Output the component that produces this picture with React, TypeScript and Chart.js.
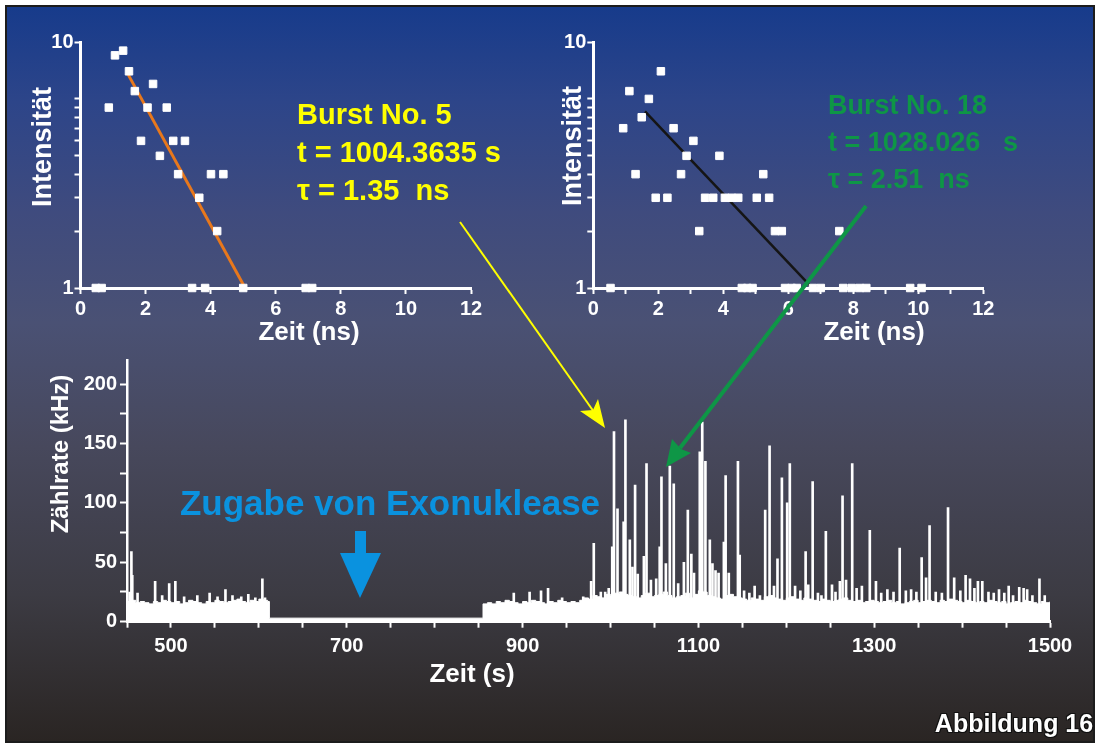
import React, { useEffect, useRef } from "react";
import { Chart, registerables } from "chart.js";

Chart.register(...registerables);

const FONT = '"Liberation Sans", Arial, Helvetica, sans-serif';

// ---------- Burst No. 5 (left decay, log scale) ----------
const burst5Time = [1.06, 1.31, 1.49, 1.67, 2.23, 0.87, 2.06, 2.65, 1.86, 2.85, 3.21, 2.44, 3.0, 4.01, 4.39, 3.65, 4.2, 0.47, 0.65, 3.43, 3.83, 5.0, 6.92, 7.12];
const burst5Counts = [17, 18, 14, 11, 12, 9, 9, 9, 6, 6, 6, 5, 4, 4, 4, 3, 2, 1, 1, 1, 1, 1, 1, 1];
const burst5FitTime = [1.47, 5.06];
const burst5FitCounts = [13.4, 1.0];

// ---------- Burst No. 18 (right decay, log scale) ----------
const burst18Time = [2.08, 1.11, 1.71, 1.49, 0.92, 2.47, 3.08, 2.87, 3.88, 1.3, 2.7, 5.23, 1.92, 2.28, 3.44, 3.69, 4.05, 4.26, 4.46, 5.03, 5.41, 3.26, 5.59, 5.8, 7.57, 0.53, 4.57, 4.74, 4.9, 5.9, 6.1, 6.26, 6.76, 7.0, 7.69, 7.95, 8.2, 8.4, 9.75, 10.1];
const burst18Counts = [14, 11, 10, 8, 7, 7, 6, 5, 5, 4, 4, 4, 3, 3, 3, 3, 3, 3, 3, 3, 3, 2, 2, 2, 2, 1, 1, 1, 1, 1, 1, 1, 1, 1, 1, 1, 1, 1, 1, 1];
const burst18FitTime = [1.59, 6.67];
const burst18FitCounts = [8.6, 1.03];

// log-axis tick positions (labelled "1" and "10" as in the original figure)
const decayTickValues = [1, 2, 3, 4, 5, 6, 7, 8, 9, 10, 20];

// ---------- Count-rate trace (kHz) ----------
const segAStart = 450; // s, 5 s bins
const segARate = [17, 18, 16, 17, 16, 15, 17, 16, 18, 17, 16, 17, 15, 16, 18, 17, 16, 15, 17, 16, 18, 17, 16, 17, 18, 19, 17, 16, 18, 17, 19, 18, 17];
const gapTime = [612];
const gapRate = [3];
const segBStart = 855; // s, 5 s bins
const segBRate = [
  15, 16, 15, 17, 16, 18, 17, 16, 15, 17,
  16, 18, 17, 16, 15, 17, 16, 18, 17, 16,
  17, 16, 18, 20, 19, 22, 21, 20, 23, 22,
  24, 25, 23, 22, 21, 20, 22, 24, 21, 22,
  23, 25, 22, 20, 21, 22, 24, 20, 23, 26,
  25, 22, 21, 20, 19, 22, 23, 21, 20, 19,
  18, 20, 19, 18, 21, 22, 20, 19, 18, 20,
  21, 19, 18, 20, 19, 18, 17, 19, 18, 17,
  18, 19, 20, 18, 17, 18, 16, 17, 18, 17,
  16, 17, 18, 16, 17, 15, 16, 17, 18, 16,
  17, 18, 17, 16, 18, 17, 19, 18, 17, 16,
  18, 17, 16, 17, 16, 18, 17, 16, 17, 15,
  16, 17, 16, 18, 17, 16, 15, 17, 16, 17,
];
const binWidth = 5;

const spikeTime = [
  453, 455, 456, 462, 482, 490, 498, 505, 515, 530, 544, 553, 562, 570, 580, 588, 596, 604, 607,
  890, 908, 921, 929, 945, 969, 978, 981, 989, 994, 998, 1002, 1004, 1008, 1015, 1017, 1022, 1025, 1028, 1031,
  1038, 1041, 1046, 1052, 1056, 1058, 1063, 1067.5, 1072, 1077, 1083.5, 1088, 1092, 1095, 1101.6, 1104.4, 1108,
  1113, 1116, 1119.5, 1123, 1129, 1131, 1134.6, 1145, 1147, 1152, 1158, 1164, 1170, 1176, 1181, 1186, 1190,
  1195, 1201, 1204, 1210, 1216, 1222, 1225, 1230, 1236, 1240, 1245, 1252, 1256, 1261, 1264, 1268, 1275, 1280,
  1286, 1295, 1302, 1308, 1315, 1322, 1329, 1336, 1342, 1348, 1354, 1359, 1363, 1370, 1377, 1384, 1391, 1398,
  1404, 1409, 1414, 1418, 1423, 1430, 1436, 1442, 1448, 1453, 1458, 1465, 1470, 1474, 1480, 1488, 1494,
];
const spikeRate = [
  25, 59, 39, 24, 34, 22, 32, 34, 21, 22, 24, 21, 27, 22, 21, 23, 20, 36, 20,
  24, 25, 26, 28, 20, 21, 34, 66, 25, 25, 28, 63, 160, 95, 84, 170, 69, 46, 115, 40,
  55, 133, 35, 36, 63, 122, 49, 131, 116, 32, 50, 94, 57, 41, 143, 168, 135,
  69, 49, 43, 41, 67, 123, 41, 135, 56, 26, 24, 30, 22, 94, 148, 30, 53,
  121, 100, 133, 30, 26, 59, 31, 118, 24, 22, 76, 31, 25, 34, 106, 35, 133, 28,
  30, 77, 34, 24, 27, 25, 62, 26, 27, 25, 54, 37, 81, 25, 24, 96, 37, 26,
  39, 36, 28, 34, 34, 25, 24, 27, 24, 30, 22, 29, 28, 27, 22, 36, 22,
];

const tickFont = { family: FONT, size: 20, weight: "bold" as const };

function buildTrace() {
  const pts: { x: number; y: number }[] = [];
  segARate.forEach((v, i) => pts.push({ x: segAStart + i * binWidth, y: v }));
  gapTime.forEach((t, i) => pts.push({ x: t, y: gapRate[i] }));
  segBRate.forEach((v, i) => pts.push({ x: segBStart + i * binWidth, y: v }));
  return pts;
}

function axisGrid() {
  return {
    display: true,
    drawOnChartArea: false,
    drawTicks: true,
    tickLength: 6,
    tickWidth: 2,
    tickColor: "#ffffff",
    color: "#ffffff",
    offset: false,
  };
}

function decayConfig(p: {
  times: number[];
  counts: number[];
  fitTimes: number[];
  fitCounts: number[];
  fitColor: string;
  fitWidth: number;
  xStep: number;
  yWidth: number;
  padRight: number;
}): any {
  return {
    type: "scatter",
    data: {
      datasets: [
        {
          type: "scatter",
          data: p.times.map((t, i) => ({ x: t, y: p.counts[i] })),
          pointStyle: "rect",
          pointRadius: 5.3,
          backgroundColor: "#ffffff",
          borderColor: "#ffffff",
          borderWidth: 1,
          order: 1,
          clip: false,
        },
        {
          type: "line",
          data: p.fitTimes.map((t, i) => ({ x: t, y: p.fitCounts[i] })),
          borderColor: p.fitColor,
          borderWidth: p.fitWidth,
          pointRadius: 0,
          fill: false,
          order: 2,
          clip: false,
        },
      ],
    },
    options: {
      responsive: false,
      animation: false,
      devicePixelRatio: 1,
      layout: { padding: { top: 22, right: p.padRight, left: 0, bottom: 0 } },
      plugins: { legend: { display: false }, tooltip: { enabled: false } },
      scales: {
        x: {
          type: "linear",
          min: 0,
          max: 12,
          border: { display: true, color: "#ffffff", width: 3 },
          grid: axisGrid(),
          ticks: {
            stepSize: p.xStep,
            color: "#ffffff",
            font: tickFont,
            padding: 3,
            maxRotation: 0,
            autoSkip: false,
            callback: (v: number) => (v % 2 === 0 ? String(v) : ""),
          },
          afterFit: (s: any) => {
            s.height = 32;
          },
        },
        y: {
          type: "logarithmic",
          min: 1,
          max: 20,
          border: { display: true, color: "#ffffff", width: 3 },
          grid: axisGrid(),
          ticks: {
            color: "#ffffff",
            font: tickFont,
            padding: 1,
            autoSkip: false,
            callback: (v: number) => (v === 1 ? "1" : v === 20 ? "10" : ""),
          },
          afterBuildTicks: (s: any) => {
            s.ticks = decayTickValues.map((v) => ({ value: v }));
          },
          afterFit: (s: any) => {
            s.width = p.yWidth;
          },
        },
      },
    },
  };
}

function traceConfig(): any {
  return {
    type: "line",
    data: {
      datasets: [
        {
          type: "line",
          data: buildTrace(),
          stepped: "before",
          fill: "origin",
          backgroundColor: "#ffffff",
          borderColor: "#ffffff",
          borderWidth: 1,
          pointRadius: 0,
          order: 2,
        },
        {
          type: "bar",
          data: spikeTime.map((t, i) => ({ x: t, y: spikeRate[i] })),
          backgroundColor: "#ffffff",
          borderWidth: 0,
          barThickness: 2,
          order: 1,
        },
      ],
    },
    options: {
      responsive: false,
      animation: false,
      devicePixelRatio: 1,
      layout: { padding: { top: 20.3, right: 40, left: 0, bottom: 0 } },
      plugins: { legend: { display: false }, tooltip: { enabled: false } },
      scales: {
        x: {
          type: "linear",
          min: 450,
          max: 1500,
          offset: false,
          border: { display: true, color: "#ffffff", width: 3 },
          grid: axisGrid(),
          ticks: {
            stepSize: 50,
            color: "#ffffff",
            font: tickFont,
            padding: 7,
            maxRotation: 0,
            autoSkip: false,
            callback: (v: number) => (v >= 500 && (v - 500) % 200 === 0 ? String(v) : ""),
          },
          afterFit: (s: any) => {
            s.height = 48.3;
          },
        },
        y: {
          type: "linear",
          min: 0,
          max: 220,
          border: { display: true, color: "#ffffff", width: 2.5 },
          grid: { ...axisGrid(), tickLength: 7 },
          ticks: {
            stepSize: 25,
            includeBounds: false,
            color: "#ffffff",
            font: tickFont,
            padding: 3,
            autoSkip: false,
            callback: (v: number) => (v % 50 === 0 ? String(v) : ""),
          },
          afterFit: (s: any) => {
            s.width = 107;
          },
        },
      },
    },
  };
}

function ChartCanvas(props: { left: number; top: number; width: number; height: number; make: () => any }) {
  const ref = useRef<HTMLCanvasElement | null>(null);
  useEffect(() => {
    if (!ref.current) return;
    const chart = new Chart(ref.current, props.make());
    return () => chart.destroy();
  }, []);
  return (
    <canvas
      ref={ref}
      width={props.width}
      height={props.height}
      style={{ position: "absolute", left: props.left, top: props.top, width: props.width, height: props.height }}
    />
  );
}

function Label(props: { x: number; y: number; text: string; size: number; color?: string; rotate?: number; style?: any }) {
  return (
    <div
      style={{
        position: "absolute",
        left: props.x,
        top: props.y,
        transform: `translate(-50%, -50%) rotate(${props.rotate || 0}deg)`,
        fontFamily: FONT,
        fontWeight: "bold",
        fontSize: props.size,
        lineHeight: 1,
        color: props.color || "#ffffff",
        whiteSpace: "pre",
        ...(props.style || {}),
      }}
    >
      {props.text}
    </div>
  );
}

function TextBlock(props: { left: number; top: number; lines: string[]; size: number; lineHeight: number; color: string }) {
  return (
    <div
      style={{
        position: "absolute",
        left: props.left,
        top: props.top,
        fontFamily: FONT,
        fontWeight: "bold",
        fontSize: props.size,
        lineHeight: `${props.lineHeight}px`,
        color: props.color,
        whiteSpace: "pre",
      }}
    >
      {props.lines.map((l, i) => (
        <div key={i}>{l}</div>
      ))}
    </div>
  );
}

export default function App() {
  const yellow = "#ffff00";
  const green = "#0e9646";
  const blue = "#0a92df";
  return (
    <div style={{ position: "absolute", left: 0, top: 0, width: 1101, height: 745, background: "#ffffff", overflow: "hidden" }}>
      <div
        style={{
          position: "absolute",
          left: 5,
          top: 5,
          width: 1090,
          height: 738,
          boxSizing: "border-box",
          border: "2px solid #1c1c1c",
          background:
            "linear-gradient(180deg, #173b8b 0%, #2d4589 13%, #3f4b7e 28%, #4a5174 43%, #47485c 60%, #3c3b43 80%, #2a2523 100%)",
        }}
      />
      <ChartCanvas
        left={20}
        top={20}
        width={480}
        height={300}
        make={() =>
          decayConfig({
            times: burst5Time,
            counts: burst5Counts,
            fitTimes: burst5FitTime,
            fitCounts: burst5FitCounts,
            fitColor: "#e8781c",
            fitWidth: 3,
            xStep: 2,
            yWidth: 60.5,
            padRight: 29,
          })
        }
      />
      <ChartCanvas
        left={530}
        top={20}
        width={480}
        height={300}
        make={() =>
          decayConfig({
            times: burst18Time,
            counts: burst18Counts,
            fitTimes: burst18FitTime,
            fitCounts: burst18FitCounts,
            fitColor: "#151515",
            fitWidth: 2.5,
            xStep: 1,
            yWidth: 63.3,
            padRight: 26.7,
          })
        }
      />
      <ChartCanvas left={20} top={340} width={1070} height={330} make={traceConfig} />

      <svg width={1101} height={745} style={{ position: "absolute", left: 0, top: 0, pointerEvents: "none" }}>
        {/* yellow arrow */}
        <line x1={460} y1={222} x2={594} y2={412} stroke={yellow} strokeWidth={2} />
        <polygon points="605,428 580,411 593,410 598,399" fill={yellow} />
        {/* green arrow */}
        <line x1={866} y1={206} x2={680} y2={448} stroke={green} strokeWidth={4} />
        <polygon points="666,467 672,439 681,449 691,453" fill={green} />
        {/* blue arrow */}
        <rect x={355} y={531} width={11} height={26} fill={blue} />
        <polygon points="340,553 381,553 360,598" fill={blue} />
      </svg>

      <Label x={42} y={147} text="Intensität" size={27} rotate={-90} />
      <Label x={572} y={146} text="Intensität" size={27} rotate={-90} />
      <Label x={309} y={331} text="Zeit (ns)" size={26} />
      <Label x={874} y={331} text="Zeit (ns)" size={26} />
      <Label x={60} y={454} text="Zählrate (kHz)" size={24} rotate={-90} />
      <Label x={472} y={673} text="Zeit (s)" size={26} />

      <TextBlock left={297} top={95} size={29} lineHeight={38} color={yellow} lines={["Burst No. 5", "t = 1004.3635 s", "τ = 1.35  ns"]} />
      <TextBlock left={828} top={87} size={27} lineHeight={37} color={green} lines={["Burst No. 18", "t = 1028.026   s", "τ = 2.51  ns"]} />

      <Label x={390} y={502} text="Zugabe von Exonuklease" size={35} color={blue} />
      <Label
        x={1014}
        y={723}
        text="Abbildung 16"
        size={25}
        style={{ textShadow: "1px 1px 0 #111, -1px -1px 0 #111, 1px -1px 0 #111, -1px 1px 0 #111" }}
      />
    </div>
  );
}
